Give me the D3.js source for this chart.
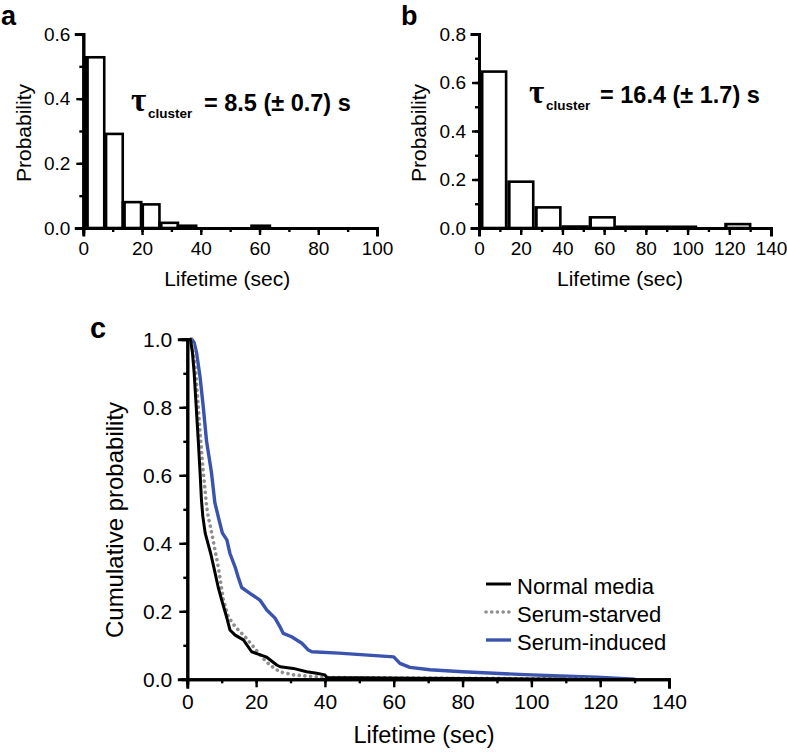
<!DOCTYPE html>
<html><head><meta charset="utf-8">
<script src="https://cdn.jsdelivr.net/npm/d3@7"></script>
<style>
html,body{margin:0;padding:0;background:#fff;}
svg{display:block;font-family:"Liberation Sans",Arial,sans-serif;}
</style></head>
<body><svg id="chart" width="787" height="752"></svg>
<script>
// ---------------- DATA ----------------
// Panel a: histogram of cluster lifetimes (bin centres in sec, probability)
const binWidthA = 6.26;
const binCentersA = [4.0, 10.3, 16.6, 22.8, 29.1, 35.3, 60.4];
const probA = [0.528, 0.291, 0.080, 0.073, 0.016, 0.007, 0.007];
const xTicksA = [0, 20, 40, 60, 80, 100];
const yTicksA = [0.0, 0.2, 0.4, 0.6];
const tauA = "= 8.5 (± 0.7) s";

// Panel b
const binWidthB = 13;
const binCentersB = [6.5, 19.5, 32.5, 45.5, 58.5, 71.5, 84.5, 97.5, 123.5];
const probB = [0.645, 0.191, 0.085, 0.006, 0.044, 0.005, 0.005, 0.005, 0.016];
const xTicksB = [0, 20, 40, 60, 80, 100, 120, 140];
const yTicksB = [0.0, 0.2, 0.4, 0.6, 0.8];
const tauB = "= 16.4 (± 1.7) s";

// Panel c: cumulative (survival) probability curves
const seriesNames = ["Normal media", "Serum-starved", "Serum-induced"];
const normalT = [0.9,1.5,2.0,2.6,3.2,3.7,4.1,4.5,5.2,6.0,6.8,7.7,9.0,10,11.4,12.4,13.9,16.3,18.7,20.6,23.1,26,27,30.8,34.7,37.6,40,40.5,67,100,110];
const normalP = [1.0,0.96,0.90,0.80,0.70,0.61,0.53,0.48,0.43,0.40,0.37,0.33,0.27,0.233,0.184,0.145,0.13,0.116,0.081,0.074,0.065,0.042,0.037,0.032,0.022,0.018,0.013,0.005,0.003,0.001,0];
const starvedT = [1.0,1.8,2.5,3.2,3.9,4.65,5.6,6.1,7.1,8.05,9,10.5,11.9,13.9,16.8,19.2,21.6,24,26.9,30.8,36.6,42,60,105,120];
const starvedP = [1.0,0.97,0.90,0.80,0.70,0.61,0.51,0.478,0.43,0.38,0.331,0.233,0.184,0.155,0.125,0.096,0.066,0.042,0.022,0.013,0.008,0.005,0.004,0.002,0];
const inducedT = [1.3,2.0,2.7,3.7,4.65,5.6,7.0,8.0,9.2,10.2,11.5,12.4,13.9,14.8,15.8,18.2,21.1,23.1,25.5,26.9,27.9,30.3,33.3,35.2,36.2,44,60,61.8,64.7,70.5,80,100,119,130];
const inducedP = [1.0,0.99,0.96,0.89,0.80,0.70,0.61,0.52,0.47,0.43,0.41,0.37,0.33,0.30,0.27,0.253,0.233,0.204,0.18,0.155,0.135,0.125,0.106,0.086,0.081,0.077,0.066,0.047,0.035,0.028,0.022,0.013,0.006,0];
const xTicksC = [0, 20, 40, 60, 80, 100, 120, 140];
const yTicksC = [0.0, 0.2, 0.4, 0.6, 0.8, 1.0];

// ---------------- DRAW ----------------
const svg = d3.select("#chart");
const fmt1 = d3.format(".1f");

function drawAxes(g, x, y, xMaj, xMin, yMaj, yMin, o) {
  const xa = g.append("g").attr("transform", `translate(0,${y.range()[0]})`);
  xa.call(d3.axisBottom(x).tickValues(xMin).tickSize(o.minor).tickFormat(""));
  const xb = g.append("g").attr("transform", `translate(0,${y.range()[0]})`);
  xb.call(d3.axisBottom(x).tickValues(xMaj).tickSize(o.major).tickPadding(o.xpad).tickFormat(d3.format("d")));
  const ya = g.append("g").attr("transform", `translate(${x.range()[0]},0)`);
  ya.call(d3.axisLeft(y).tickValues(yMin).tickSize(o.minor).tickFormat(""));
  const yb = g.append("g").attr("transform", `translate(${x.range()[0]},0)`);
  yb.call(d3.axisLeft(y).tickValues(yMaj).tickSize(o.major).tickPadding(o.ypad).tickFormat(fmt1));
  [xa, xb, ya, yb].forEach(a => {
    a.selectAll(".domain").attr("stroke", "#000").attr("stroke-width", 3).attr("stroke-linecap", "square");
    a.selectAll(".tick line").attr("stroke", "#000").attr("stroke-width", 2.4);
  });
  xb.selectAll(".tick text").attr("font-size", o.xfs).attr("fill", "#000").attr("font-family", "Liberation Sans, Arial, sans-serif");
  yb.selectAll(".tick text").attr("font-size", o.yfs).attr("fill", "#000").attr("font-family", "Liberation Sans, Arial, sans-serif");
}

function histPanel(cfg) {
  const g = svg.append("g");
  const x = d3.scaleLinear().domain(cfg.xDomain).range(cfg.xRange);
  const y = d3.scaleLinear().domain(cfg.yDomain).range(cfg.yRange);
  const data = cfg.centers.map((c, i) => ({c, p: cfg.probs[i]}));
  const bars = g.append("g");
  bars.selectAll("rect.bar").data(data).join("rect")
    .attr("class", "bar")
    .attr("x", d => x(d.c - cfg.w / 2) + cfg.gap)
    .attr("width", d => x(d.c + cfg.w / 2) - x(d.c - cfg.w / 2) - cfg.gap)
    .attr("y", d => y(d.p))
    .attr("height", d => y(0) - y(d.p))
    .attr("fill", "#fff").attr("stroke", "#000").attr("stroke-width", 2.6);
  bars.selectAll("rect.edge").data(data).join("rect")
    .attr("class", "edge")
    .attr("x", d => x(d.c - cfg.w / 2) + cfg.gap)
    .attr("width", cfg.edge)
    .attr("y", d => y(d.p))
    .attr("height", d => y(0) - y(d.p))
    .attr("fill", "#000");
  const xMin = d3.range(cfg.xDomain[0], cfg.xDomain[1] + 0.001, 10);
  const yMin = d3.range(0, cfg.yDomain[1] + 0.0001, 0.1).map(v => +v.toFixed(2));
  drawAxes(g, x, y, cfg.xTicks, xMin, cfg.yTicks, yMin, {major: 7, minor: 4, xpad: 7, ypad: 6, xfs: 19, yfs: 19});
  // axis titles
  g.append("text").attr("x", (cfg.xRange[0] + cfg.xRange[1]) / 2 + cfg.xtDx).attr("y", 286)
    .attr("text-anchor", "middle").attr("font-size", 21).text("Lifetime (sec)");
  g.append("text").attr("transform", `translate(${cfg.ylabX},133) rotate(-90)`)
    .attr("text-anchor", "middle").attr("font-size", 21).text("Probability");
  // panel letter
  g.append("text").attr("x", cfg.letterX).attr("y", 25).attr("font-size", 27).attr("font-weight", "bold").text(cfg.letter);
  // tau annotation
  const t = g.append("g").attr("font-weight", "bold");
  t.append("text").attr("x", cfg.tauX + 1).attr("y", cfg.tauY).attr("font-size", 33)
    .attr("font-family", "Liberation Serif, DejaVu Serif, serif").text("τ");
  t.append("text").attr("x", cfg.tauX + 18).attr("y", cfg.tauY + 7).attr("font-size", 13.5).text("cluster");
  t.append("text").attr("x", cfg.eqX).attr("y", cfg.tauY).attr("font-size", 23.5).text(cfg.tau);
}

histPanel({xDomain: [0, 100], xRange: [83.3, 377], yDomain: [0, 0.6], yRange: [228, 34],
  centers: binCentersA, probs: probA, w: binWidthA, gap: 0, edge: 3,
  xTicks: xTicksA, yTicks: yTicksA, letter: "a", letterX: 1, ylabX: 31, xtDx: -3,
  tauX: 130, tauY: 111, eqX: 204, tau: tauA});
histPanel({xDomain: [0, 140], xRange: [479, 771], yDomain: [0, 0.8], yRange: [228, 34],
  centers: binCentersB, probs: probB, w: binWidthB, gap: 2.5, edge: 2,
  xTicks: xTicksB, yTicks: yTicksB, letter: "b", letterX: 401, ylabX: 426, xtDx: -5,
  tauX: 528, tauY: 103, eqX: 600, tau: tauB});

// Panel c
(function () {
  const g = svg.append("g");
  const x = d3.scaleLinear().domain([0, 140]).range([187.3, 669]);
  const y = d3.scaleLinear().domain([0, 1]).range([679.3, 339.3]);
  const xMin = d3.range(0, 140.001, 10);
  const yMin = d3.range(0, 1.0001, 0.1).map(v => +v.toFixed(2));
  const zip = (T, P) => T.map((t, i) => [t, P[i]]);
  const series = [
    {name: seriesNames[0], pts: zip(normalT, normalP), color: "#000", w: 3, dash: null},
    {name: seriesNames[1], pts: zip(starvedT, starvedP), color: "#8f8f8f", w: 3.6, dash: "0.1,5.6"},
    {name: seriesNames[2], pts: zip(inducedT, inducedP), color: "#3a53ae", w: 3.4, dash: null}
  ];
  const line = d3.line().x(d => x(d[0])).y(d => y(d[1]));
  const drawOrder = [2, 1, 0];
  drawOrder.forEach(i => {
    const s = series[i];
    g.append("path").attr("d", line(s.pts)).attr("fill", "none")
      .attr("stroke", s.color).attr("stroke-width", s.w)
      .attr("stroke-linejoin", "round").attr("stroke-linecap", "round")
      .attr("stroke-dasharray", s.dash);
  });
  drawAxes(g, x, y, xTicksC, xMin, yTicksC, yMin, {major: 8, minor: 4, xpad: 7, ypad: 7, xfs: 21, yfs: 21});
  g.append("text").attr("x", 424).attr("y", 743).attr("text-anchor", "middle").attr("font-size", 23.5).text("Lifetime (sec)");
  g.append("text").attr("transform", "translate(123,520) rotate(-90)").attr("text-anchor", "middle")
    .attr("font-size", 24).text("Cumulative probability");
  g.append("text").attr("x", 90).attr("y", 338).attr("font-size", 29).attr("font-weight", "bold").text("c");
  // legend
  const lg = g.append("g");
  series.forEach((s, i) => {
    const yy = 584 + i * 28;
    lg.append("line").attr("x1", 486).attr("x2", 511).attr("y1", yy).attr("y2", yy)
      .attr("stroke", s.color).attr("stroke-width", s.w).attr("stroke-linecap", s.dash ? "round" : "butt")
      .attr("stroke-dasharray", s.dash);
    lg.append("text").attr("x", 517).attr("y", yy + 4).attr("dominant-baseline", "middle")
      .attr("font-size", 22).text(s.name);
  });
})();
</script></body></html>
